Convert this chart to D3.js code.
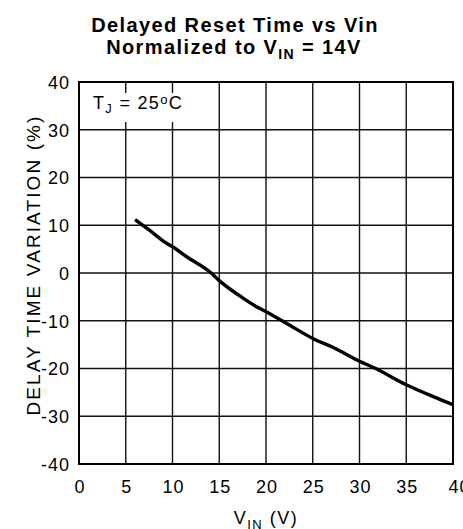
<!DOCTYPE html>
<html>
<head>
<meta charset="utf-8">
<script src="https://cdn.jsdelivr.net/npm/d3@7"></script>
<style>
  html, body { margin: 0; padding: 0; background: #fff; }
  svg { display: block; font-family: "Liberation Sans", Arial, Helvetica, sans-serif; }
</style>
</head>
<body>
<div id="chart"></div>
<script>
// values
const vin = [6, 7.7, 9.3, 10, 11.6, 14, 15, 17.5, 19.3, 20, 22.5, 25, 27.2, 30, 31.5, 35, 37.9, 40];
const delay = [11.2, 8.7, 6.3, 5.5, 3.3, 0.2, -1.6, -5.2, -7.4, -8.1, -10.9, -13.7, -15.6, -18.5, -19.8, -23.4, -25.9, -27.6];
const xTicks = [0, 5, 10, 15, 20, 25, 30, 35, 40];
const yTicks = [-40, -30, -20, -10, 0, 10, 20, 30, 40];

const W = 463, H = 529;
const margin = { top: 82, right: 10, bottom: 65, left: 79 };
const iw = W - margin.left - margin.right;
const ih = H - margin.top - margin.bottom;

const svg = d3.select("#chart").append("svg").attr("width", W).attr("height", H);

const x = d3.scaleLinear().domain([0, 40]).range([0, iw]);
const y = d3.scaleLinear().domain([-40, 40]).range([ih, 0]);

// title
const title = svg.append("text").attr("text-anchor", "middle")
  .style("font-weight", "bold").style("font-size", "20px").style("letter-spacing", "1.4px");
title.append("tspan").attr("x", 235).attr("y", 32).text("Delayed Reset Time vs Vin");
const t2 = title.append("tspan").attr("x", 234).attr("y", 54);
t2.append("tspan").text("Normalized to V");
t2.append("tspan").attr("dy", 5).style("font-size", "14px").text("IN");
t2.append("tspan").attr("dy", -5).text(" = 14V");

const g = svg.append("g").attr("transform", `translate(${margin.left},${margin.top})`);

// grid
g.append("g").selectAll("line").data(xTicks).join("line")
  .attr("x1", d => x(d)).attr("x2", d => x(d)).attr("y1", 0).attr("y2", ih)
  .attr("stroke", "#111").attr("stroke-width", 1.4);
g.append("g").selectAll("line").data(yTicks).join("line")
  .attr("x1", 0).attr("x2", iw).attr("y1", d => y(d)).attr("y2", d => y(d))
  .attr("stroke", "#111").attr("stroke-width", 1.4);

// frame
g.append("rect").attr("width", iw).attr("height", ih)
  .attr("fill", "none").attr("stroke", "#000").attr("stroke-width", 2);

// tick labels from d3 axes, plain hyphen for negatives
const fmt = d => String(d);
const xAxis = g.append("g").attr("transform", `translate(0,${ih})`)
  .call(d3.axisBottom(x).tickValues(xTicks).tickFormat(fmt).tickSize(0).tickPadding(16));
const yAxis = g.append("g")
  .call(d3.axisLeft(y).tickValues(yTicks).tickFormat(fmt).tickSize(0).tickPadding(9));
[xAxis, yAxis].forEach(a => {
  a.select(".domain").remove();
  a.selectAll("text").style("font-family", "'Liberation Sans', Arial, sans-serif")
    .style("font-size", "18px").style("letter-spacing", "1px").attr("fill", "#000");
});
// last label sits partly past the right edge, as in the original
xAxis.selectAll("text").attr("dy", "0.71em").attr("dx", d => d === 40 ? 6 : 0.5);
yAxis.selectAll("text").attr("dy", "0.36em");

// annotation with white background
g.append("rect").attr("x", 9).attr("y", 11).attr("width", 97).attr("height", 29).attr("fill", "#fff");
const ann = g.append("text").attr("x", 14).attr("y", 26.5)
  .style("font-size", "18px").style("letter-spacing", "1.3px");
ann.append("tspan").text("T");
ann.append("tspan").attr("dy", 4).style("font-size", "13px").text("J");
ann.append("tspan").attr("dy", -4).text(" = 25");
ann.append("tspan").attr("dy", -5).style("font-size", "13px").text("o");
ann.append("tspan").attr("dy", 5).text("C");

// curve
const line = d3.line().x(d => x(d[0])).y(d => y(d[1])).curve(d3.curveMonotoneX);
g.append("path").datum(vin.map((v, i) => [v, delay[i]]))
  .attr("d", line).attr("fill", "none").attr("stroke", "#000")
  .attr("stroke-width", 3.4).attr("stroke-linecap", "butt");

// axis titles
const xt = svg.append("text").attr("x", margin.left + iw / 2).attr("y", 524)
  .attr("text-anchor", "middle").style("font-size", "18px").style("letter-spacing", "1.5px");
xt.append("tspan").text("V");
xt.append("tspan").attr("dy", 5).style("font-size", "13px").text("IN");
xt.append("tspan").attr("dy", -5).text(" (V)");

svg.append("text").attr("transform", `translate(40,265) rotate(-90)`)
  .attr("text-anchor", "middle").style("font-size", "19px").style("letter-spacing", "2.1px")
  .text("DELAY TIME VARIATION (%)");
</script>
</body>
</html>
